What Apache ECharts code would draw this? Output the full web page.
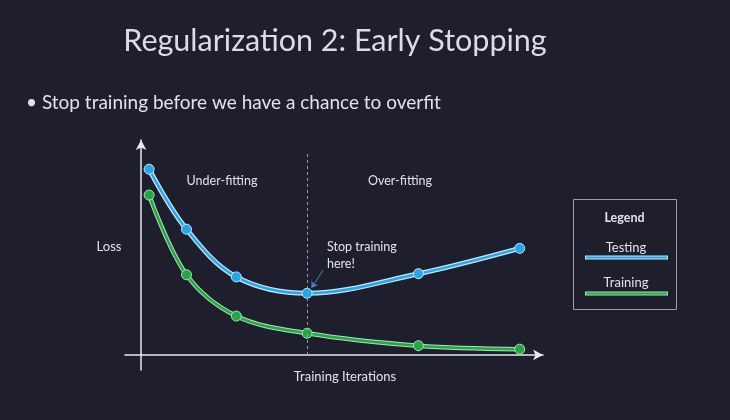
<!DOCTYPE html>
<html>
<head>
<meta charset="utf-8">
<script src="https://cdn.jsdelivr.net/npm/echarts@6/dist/echarts.min.js"></script>
<style>
    html, body { margin: 0; padding: 0; background: #1e1e2d; }
    #chart { width: 730px; height: 420px; }
</style>
</head>
<body>
<div id="chart"></div>
<script>
// iterations (x) and loss values (y)
var iterations = [2.0, 11.3, 23.7, 41.3, 69.0, 94.2];
var testingLoss = [86.4, 58.5, 36.3, 28.7, 37.8, 49.6];
var trainingLoss = [74.4, 37.3, 18.1, 10.1, 4.3, 2.7];
var stopAt = 41.3;

function pairs(xs, ys) {
    var out = [];
    for (var i = 0; i < xs.length; i++) {
        out.push([xs[i], ys[i]]);
    }
    return out;
}

var font = 'Lato, "Open Sans", sans-serif';
var textColor = '#e2e2e8';
var blue = '#25a6ea';
var blueEdge = '#bfe8fb';
var green = '#27a546';
var greenEdge = '#a6e6b4';

var chart = echarts.init(document.getElementById('chart'));
var option = {
    backgroundColor: '#1e1e2d',
    animation: false,
    title: {
        text: 'Regularization 2: Early Stopping',
        left: 330,
        top: 21,
        textAlign: 'center',
        textStyle: {
            color: '#dcdce3',
            fontFamily: font,
            fontWeight: 'normal',
            fontSize: 30.5
        }
    },
    grid: {
        left: 125,
        right: 187,
        top: 140,
        bottom: 50
    },
    xAxis: {
        type: 'value',
        min: -4,
        max: 100,
        axisLine: {
            onZero: true,
            symbol: ['none', 'arrow'],
            symbolSize: [8, 10],
            lineStyle: { color: '#e8e8ee', width: 1.5 }
        },
        axisTick: { show: false },
        axisLabel: { show: false },
        splitLine: { show: false }
    },
    yAxis: {
        type: 'value',
        min: -7,
        max: 100,
        axisLine: {
            onZero: true,
            symbol: ['none', 'arrow'],
            symbolSize: [8, 10],
            lineStyle: { color: '#e8e8ee', width: 1.5 }
        },
        axisTick: { show: false },
        axisLabel: { show: false },
        splitLine: { show: false }
    },
    series: [
        {
            name: 'Testing edge',
            type: 'line',
            silent: true,
            smooth: 0.35,
            symbol: 'none',
            data: pairs(iterations, testingLoss),
            lineStyle: { color: blueEdge, width: 5 },
            z: 2
        },
        {
            name: 'Testing',
            type: 'line',
            smooth: 0.35,
            symbol: 'circle',
            symbolSize: 10,
            data: pairs(iterations, testingLoss),
            lineStyle: { color: blue, width: 2.5 },
            itemStyle: { color: blue, borderColor: blueEdge, borderWidth: 1 },
            z: 3,
            markLine: {
                silent: true,
                symbol: ['none', 'arrow'],
                symbolSize: 6,
                lineStyle: { color: '#4a7fd8', width: 1, type: 'solid' },
                label: { show: false },
                data: [
                    [{ coord: [45.3, 39.5] }, { coord: [42.4, 31.2] }]
                ]
            }
        },
        {
            name: 'Training edge',
            type: 'line',
            silent: true,
            smooth: 0.35,
            symbol: 'none',
            data: pairs(iterations, trainingLoss),
            lineStyle: { color: greenEdge, width: 4.5 },
            z: 2
        },
        {
            name: 'Training',
            type: 'line',
            smooth: 0.35,
            symbol: 'circle',
            symbolSize: 10,
            data: pairs(iterations, trainingLoss),
            lineStyle: { color: green, width: 2.5 },
            itemStyle: { color: green, borderColor: greenEdge, borderWidth: 1 },
            z: 3,
            markLine: {
                silent: true,
                symbol: ['none', 'none'],
                lineStyle: { color: '#9a9aa6', width: 1, type: [3, 3] },
                label: { show: false },
                data: [
                    [{ coord: [stopAt, 0] }, { coord: [stopAt, 94] }]
                ]
            }
        }
    ],
    graphic: [
        {
            type: 'text',
            left: 26,
            top: 93,
            style: {
                text: '\u2022 Stop training before we have a chance to overfit',
                fill: textColor,
                font: '19px ' + font
            }
        },
        {
            type: 'text',
            x: 222, y: 181,
            style: { text: 'Under-fitting', fill: textColor, font: '12.5px ' + font, align: 'center', verticalAlign: 'middle' }
        },
        {
            type: 'text',
            x: 400, y: 181,
            style: { text: 'Over-fitting', fill: textColor, font: '12.5px ' + font, align: 'center', verticalAlign: 'middle' }
        },
        {
            type: 'text',
            x: 109, y: 247,
            style: { text: 'Loss', fill: textColor, font: '13px ' + font, align: 'center', verticalAlign: 'middle' }
        },
        {
            type: 'text',
            x: 345, y: 377,
            style: { text: 'Training Iterations', fill: textColor, font: '13px ' + font, align: 'center', verticalAlign: 'middle' }
        },
        {
            type: 'text',
            x: 327, y: 238,
            style: { text: 'Stop training\nhere!', fill: textColor, font: '12.5px ' + font, lineHeight: 17 }
        },
        {
            type: 'rect',
            shape: { x: 573.5, y: 199.5, width: 103, height: 110 },
            style: { fill: 'none', stroke: '#9d9da6', lineWidth: 1 }
        },
        {
            type: 'text',
            x: 624.5, y: 218,
            style: { text: 'Legend', fill: textColor, font: 'bold 12.5px ' + font, align: 'center', verticalAlign: 'middle' }
        },
        {
            type: 'text',
            x: 626, y: 248,
            style: { text: 'Testing', fill: textColor, font: '13px ' + font, align: 'center', verticalAlign: 'middle' }
        },
        {
            type: 'line',
            shape: { x1: 585, y1: 257.5, x2: 668, y2: 257.5 },
            style: { stroke: blueEdge, lineWidth: 4 }
        },
        {
            type: 'line',
            shape: { x1: 586, y1: 257.5, x2: 667, y2: 257.5 },
            style: { stroke: blue, lineWidth: 2 }
        },
        {
            type: 'text',
            x: 626, y: 283,
            style: { text: 'Training', fill: textColor, font: '13px ' + font, align: 'center', verticalAlign: 'middle' }
        },
        {
            type: 'line',
            shape: { x1: 585, y1: 293.5, x2: 668, y2: 293.5 },
            style: { stroke: greenEdge, lineWidth: 4 }
        },
        {
            type: 'line',
            shape: { x1: 586, y1: 293.5, x2: 667, y2: 293.5 },
            style: { stroke: green, lineWidth: 2 }
        }
    ]
};
chart.setOption(option);
</script>
</body>
</html>
